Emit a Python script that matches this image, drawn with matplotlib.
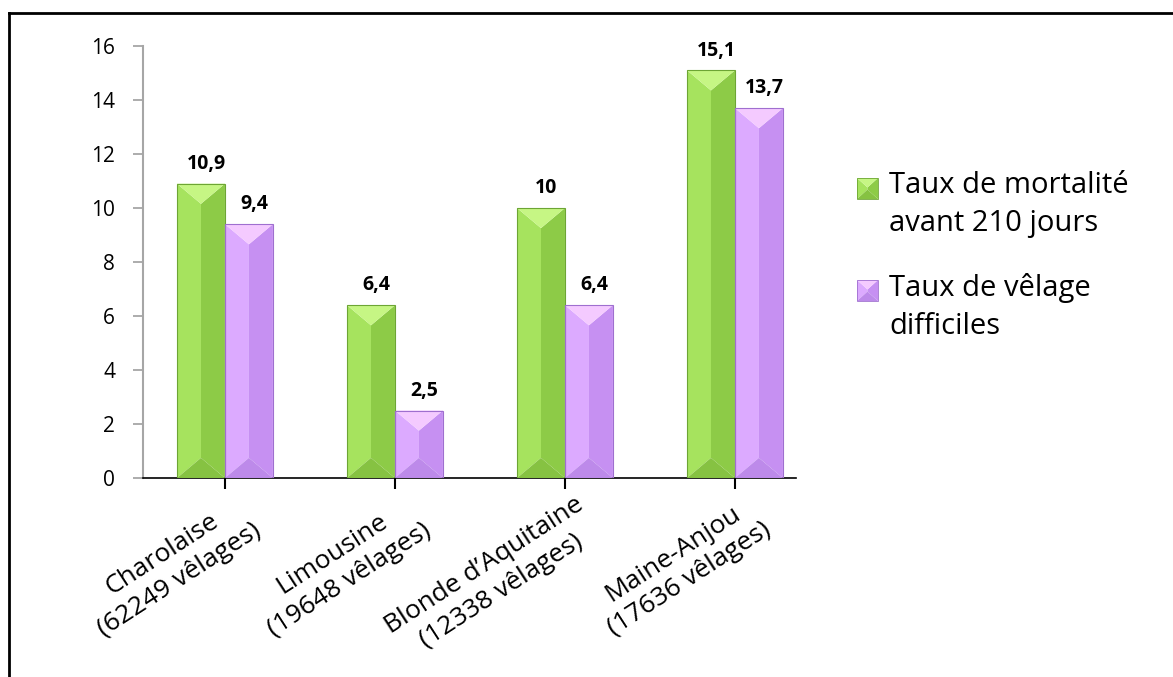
import matplotlib
matplotlib.use("Agg")
import matplotlib.pyplot as plt
from matplotlib.patches import Polygon, Rectangle
from matplotlib.lines import Line2D
from matplotlib.transforms import ScaledTranslation

plt.rcParams['font.family'] = ['Open Sans', 'DejaVu Sans']

# donnees
races = ["Charolaise\n(62249 vêlages)", "Limousine\n(19648 vêlages)",
         "Blonde d’Aquitaine\n(12338 vêlages)", "Maine-Anjou\n(17636 vêlages)"]
mortalite = [10.9, 6.4, 10.0, 15.1]
velage = [9.4, 2.5, 6.4, 13.7]
series = ["Taux de mortalité\navant 210 jours", "Taux de vêlage\ndifficiles"]
yticks = [0, 2, 4, 6, 8, 10, 12, 14, 16]

# couleurs : face gauche, face droite, dessus, dessous, bord
vert = ['#a6e35e', '#8dcb47', '#c6f684', '#86c242', '#6da534']
violet = ['#dcaaff', '#c690f2', '#f4caff', '#bd8aea', '#9f6fcf']

W, H = 1173, 677
fig = plt.figure(figsize=(W / 100, H / 100), dpi=100)

def fx(px):
    return px / W

def fy(py):
    return 1 - py / H

ax = fig.add_axes([fx(143), fy(478), fx(796) - fx(143), fy(46) - fy(478)])
ax.set_xlim(-0.482, 3.359)
ax.set_ylim(0, 16)

def bevel(add, x0, y0, w, h, d, cols, tr, z=3):
    x1, y1, xc = x0 + w, y0 + h, x0 + w / 2
    d = min(d, h / 2)
    faces = [
        ([(x0, y0), (xc, y0 + d), (xc, y1 - d), (x0, y1)], cols[0]),
        ([(x1, y0), (xc, y0 + d), (xc, y1 - d), (x1, y1)], cols[1]),
        ([(x0, y1), (x1, y1), (xc, y1 - d)], cols[2]),
        ([(x0, y0), (x1, y0), (xc, y0 + d)], cols[3]),
    ]
    for pts, c in faces:
        add(Polygon(pts, closed=True, facecolor=c, edgecolor='none',
                    transform=tr, zorder=z))

w = 0.282
x = list(range(len(races)))

# rapport pixels/unite pour la profondeur du biseau
ppx = (796 - 143) / (3.359 + 0.482)
ppy = (478 - 46) / 16

for vals, cols, shift in [(mortalite, vert, -w / 2), (velage, violet, w / 2)]:
    bars = ax.bar([i + shift for i in x], vals, w, facecolor='none',
                  edgecolor=cols[4], linewidth=0.8, zorder=4)
    for b, v in zip(bars, vals):
        d = 0.42 * b.get_width() * ppx / ppy
        bevel(ax.add_patch, b.get_x(), 0, b.get_width(), b.get_height(), d,
              cols, ax.transData)
        txt = f"{v:g}".replace('.', ',')
        ax.annotate(txt, (b.get_x() + b.get_width() / 2, b.get_height()),
                    xytext=(4, 7), textcoords='offset points', ha='center',
                    va='bottom', fontsize=14, fontweight='bold')

ax.spines['top'].set_visible(False)
ax.spines['right'].set_visible(False)
ax.spines['left'].set_color('#a6a6a6')
ax.spines['left'].set_linewidth(1.5)
ax.spines['bottom'].set_color('black')
ax.spines['bottom'].set_linewidth(1.2)

ax.set_yticks(yticks)
ax.tick_params(axis='y', direction='out', length=7, width=1.3, color='#a6a6a6',
               labelsize=15, pad=13)
ax.set_xticks(x, races, rotation=33, ha='right', va='top',
              rotation_mode='anchor', multialignment='center', fontsize=19)
ax.tick_params(axis='x', direction='out', length=8, width=1.5, color='black',
               pad=2)
for lab in ax.get_xticklabels():
    lab.set_transform(lab.get_transform() +
                      ScaledTranslation(0.1, 0, fig.dpi_scale_trans))
    lab.set_linespacing(1.3)

# legende dessinee a la main
for name, cols, ytop in [(series[0], vert, 178), (series[1], violet, 280)]:
    x0, y0 = fx(857), fy(ytop + 21)
    ww, hh = fx(878) - fx(857), fy(ytop) - fy(ytop + 21)
    bevel(fig.add_artist, x0, y0, ww, hh, hh * 0.45, cols, fig.transFigure)
    fig.add_artist(Rectangle((x0, y0), ww, hh, facecolor='none',
                             edgecolor=cols[4], linewidth=0.6,
                             transform=fig.transFigure, zorder=4))
    fig.text(fx(889), fy(ytop - 7), name, fontsize=21, va='top', ha='left',
             linespacing=1.4)

# cadre
fig.add_artist(Line2D([fx(9), fx(1173)], [fy(13), fy(13)], color='black',
                      lw=2, transform=fig.transFigure))
fig.add_artist(Line2D([fx(9), fx(9)], [fy(13), fy(677)], color='black',
                      lw=2, transform=fig.transFigure))

plt.savefig("out.png", dpi=100)
